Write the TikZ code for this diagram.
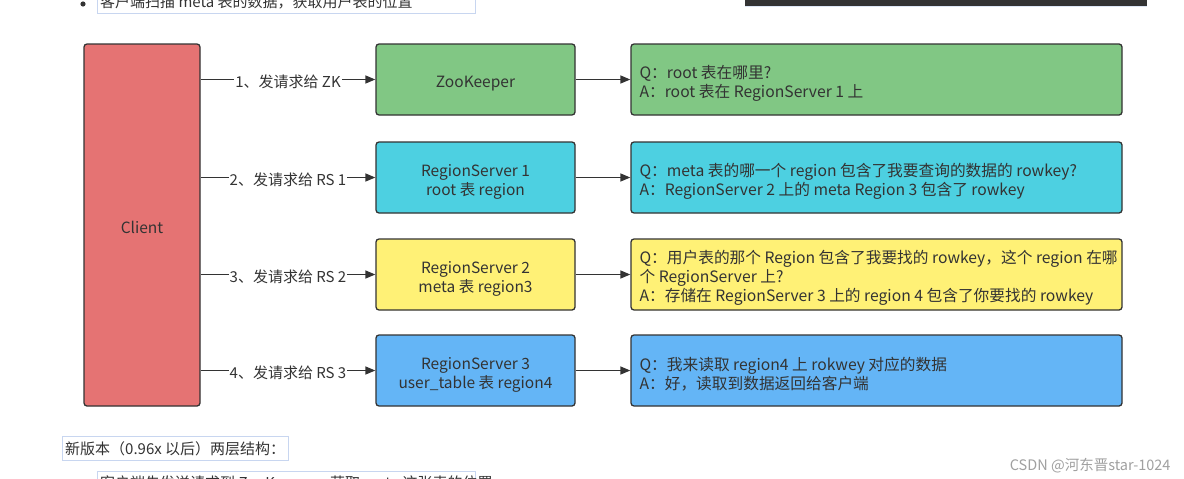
\documentclass[tikz,border=0pt]{standalone}
\usepackage{fontspec}
\setmainfont{Noto Sans CJK SC}
\usetikzlibrary{arrows.meta}
\definecolor{txt}{HTML}{333333}
\definecolor{cred}{HTML}{E57373}
\definecolor{cgreen}{HTML}{81C784}
\definecolor{ccyan}{HTML}{4DD0E1}
\definecolor{cyellow}{HTML}{FFF176}
\definecolor{cblue}{HTML}{64B5F6}
\definecolor{frame}{HTML}{C8D6F0}
\definecolor{wm}{HTML}{A0A0A0}
\begin{document}
\begin{tikzpicture}[x=1pt,y=-1pt,
  font=\fontsize{15}{19}\selectfont, text=txt,
  box/.style={draw=txt, line width=1.3pt, rounded corners=3pt},
  midbox/.style={box, minimum width=199pt, minimum height=71pt},
  qabox/.style={box, minimum width=491pt, minimum height=71pt},
  midtxt/.style={align=center, inner sep=0pt, font=\fontsize{15.5}{19}\selectfont},
  qa/.style={anchor=west, align=left, inner sep=0pt, font=\fontsize{15.7}{19}\selectfont},
  arr/.style={draw=txt, line width=1.3pt, -{Triangle[length=10pt,width=8pt]}},
  lbl/.style={fill=white, inner sep=1pt, yshift=-2.5pt},
  docframe/.style={draw=frame, line width=1pt},
  doctxt/.style={anchor=west, inner sep=0pt}]
\useasboundingbox (0,0) rectangle (1184,479);
\clip (0,0) rectangle (1184,479);
\fill[white] (0,0) rectangle (1184,479);

% document fragments around the diagram
\fill[txt] (83,4) circle (2.6pt);
\draw[docframe] (97,-12) rectangle (475,13);
\node[doctxt] (top) at (100,1.5) {客户端扫描 meta 表的数据，获取用户表的位置};
\fill[txt] (745,0) rectangle (1147,6);
\draw[frame!60, line width=1pt] (745,6.5) -- (1147,6.5);
\draw[docframe] (62,436) rectangle (288,460);
\node[doctxt] (newver) at (65,448.5) {新版本（0.96x 以后）两层结构：};
\draw[docframe] (97,471) rectangle (475,495);
\node[doctxt] (bottom) at (100,484) {客户端先发送请求到 ZooKeeper，获取 meta 这张表的位置};
\node[text=wm, font=\fontsize{14.5}{16}\selectfont, anchor=east] (mark) at (1174,466) {CSDN @河东晋star-1024};

% diagram
\node[box, fill=cred, minimum width=116pt, minimum height=362pt] (client) at (142,225) {};
\node[midtxt] (clientt) at ([yshift=-2.5pt]client.center) {Client};

\node[midbox, fill=cgreen] (zk) at (475.5,79.5) {};
\node[midbox, fill=ccyan] (rs1) at (475.5,177.5) {};
\node[midbox, fill=cyellow] (rs2) at (475.5,274.5) {};
\node[midbox, fill=cblue] (rs3) at (475.5,370.5) {};
\node[midtxt] (zkt) at ([yshift=-4.5pt]zk.center) {ZooKeeper};
\node[midtxt] (rs1t) at ([yshift=-4pt]rs1.center) {RegionServer 1\\root 表 region};
\node[midtxt] (rs2t) at ([yshift=-4pt]rs2.center) {RegionServer 2\\meta 表 region3};
\node[midtxt] (rs3t) at ([yshift=-4pt]rs3.center) {RegionServer 3\\user\_table 表 region4};

\node[qabox, fill=cgreen] (q1) at (876.5,79.5) {};
\node[qabox, fill=ccyan] (q2) at (876.5,177.5) {};
\node[qabox, fill=cyellow] (q3) at (876.5,274.5) {};
\node[qabox, fill=cblue] (q4) at (876.5,370.5) {};

\node[qa] (t1) at ([xshift=9pt,yshift=-3.5pt]q1.west) {Q：root 表在哪里?\\A：root 表在 RegionServer 1 上};
\node[qa] (t2) at ([xshift=9pt,yshift=-3.5pt]q2.west) {Q：meta 表的哪一个 region 包含了我要查询的数据的 rowkey?\\A：RegionServer 2 上的 meta Region 3 包含了 rowkey};
\node[qa] (t3) at ([xshift=9pt,yshift=-3.5pt]q3.west) {Q：用户表的那个 Region 包含了我要找的 rowkey，这个 region 在哪\\个 RegionServer 上?\\A：存储在 RegionServer 3 上的 region 4 包含了你要找的 rowkey};
\node[qa] (t4) at ([xshift=9pt,yshift=-3.5pt]q4.west) {Q：我来读取 region4 上 rokwey 对应的数据\\A：好，读取到数据返回给客户端};

\draw[arr] (client.east |- zk.west) -- node[lbl] (l1) {1、发请求给 ZK} (zk.west);
\draw[arr] (client.east |- rs1.west) -- node[lbl] (l2) {2、发请求给 RS 1} (rs1.west);
\draw[arr] (client.east |- rs2.west) -- node[lbl] (l3) {3、发请求给 RS 2} (rs2.west);
\draw[arr] (client.east |- rs3.west) -- node[lbl] (l4) {4、发请求给 RS 3} (rs3.west);

\draw[arr] (zk.east) -- (q1.west);
\draw[arr] (rs1.east) -- (q2.west);
\draw[arr] (rs2.east) -- (q3.west);
\draw[arr] (rs3.east) -- (q4.west);
\end{tikzpicture}
\end{document}
